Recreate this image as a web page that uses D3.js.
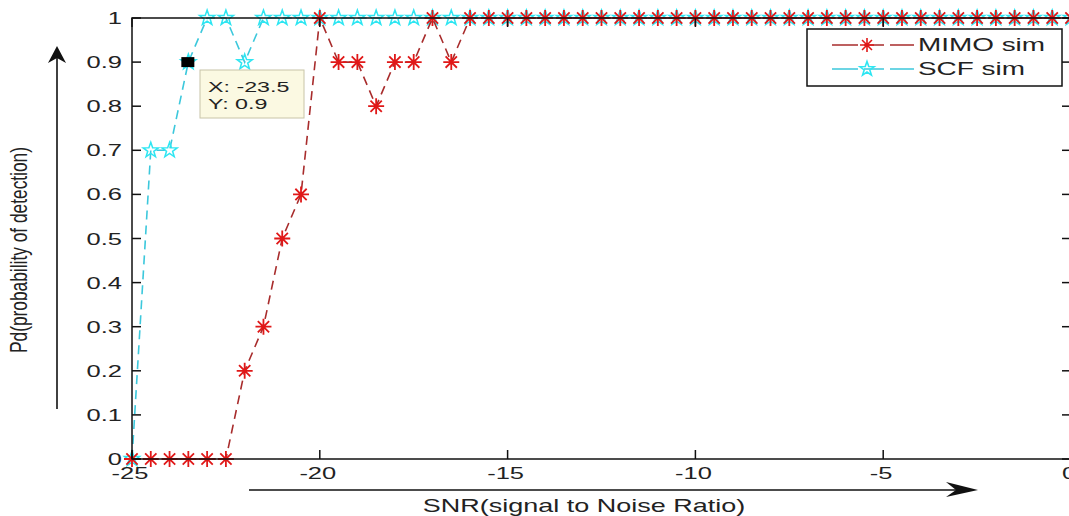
<!DOCTYPE html>
<html><head><meta charset="utf-8">
<script src="https://cdn.jsdelivr.net/npm/d3@7"></script>
<style>body{margin:0;background:#fff}svg{display:block}</style>
</head><body>
<script>
const snr = [-25,-24.5,-24,-23.5,-23,-22.5,-22,-21.5,-21,-20.5,-20,-19.5,-19,-18.5,-18,-17.5,-17,-16.5,-16,-15.5,-15,-14.5,-14,-13.5,-13,-12.5,-12,-11.5,-11,-10.5,-10,-9.5,-9,-8.5,-8,-7.5,-7,-6.5,-6,-5.5,-5,-4.5,-4,-3.5,-3,-2.5,-2,-1.5,-1,-0.5,0];
const mimo = [0,0,0,0,0,0,0.2,0.3,0.5,0.6,1,0.9,0.9,0.8,0.9,0.9,1,0.9,1,1,1,1,1,1,1,1,1,1,1,1,1,1,1,1,1,1,1,1,1,1,1,1,1,1,1,1,1,1,1,1,1];
const scf = [0,0.7,0.7,0.9,1,1,0.9,1,1,1,1,1,1,1,1,1,1,1,1,1,1,1,1,1,1,1,1,1,1,1,1,1,1,1,1,1,1,1,1,1,1,1,1,1,1,1,1,1,1,1,1];
const xTicks = [-25,-20,-15,-10,-5,0];
const yTicks = [0,0.1,0.2,0.3,0.4,0.5,0.6,0.7,0.8,0.9,1];
const seriesNames = ["MIMO sim","SCF sim"];
const tip = {x:-23.5, y:0.9};

const W=1069,H=516;
const svg=d3.select("body").append("svg").attr("width",W).attr("height",H);
const x=d3.scaleLinear().domain([-25,0]).range([132,1071]);
const y=d3.scaleLinear().domain([0,1]).range([459,18]);
const font="'Liberation Sans', Arial, sans-serif";
const redLine="#a82c2c", redMk="#e01818", cyLine="#3cc8dc", cyMk="#2ee6f2";
const SX=1.5; // horizontal stretch of the original screenshot text

function txt(parent, px, py, s, size, anchor, sx){
  return parent.append("text")
    .attr("transform",`translate(${px},${py}) scale(${sx||SX},1)`)
    .attr("text-anchor",anchor||"start")
    .attr("font-family",font).attr("font-size",size).attr("fill","#222").text(s);
}

const data1=snr.map((s,i)=>({x:s,y:mimo[i]}));
const data2=snr.map((s,i)=>({x:s,y:scf[i]}));
const line=d3.line().x(d=>x(d.x)).y(d=>y(d.y));

function starPath(r){
  let p="";
  for(let i=0;i<10;i++){
    const rr = i%2===0 ? r : r*0.4;
    const a = -Math.PI/2 + i*Math.PI/5;
    p += (i===0?"M":"L") + (rr*Math.cos(a)).toFixed(2)+","+(rr*Math.sin(a)).toFixed(2);
  }
  return p+"Z";
}
function asteriskPath(r){
  let p="";
  for(let i=0;i<4;i++){
    const a=i*Math.PI/4;
    const dx=r*Math.cos(a), dy=r*Math.sin(a);
    p+=`M${(-dx).toFixed(2)},${(-dy).toFixed(2)}L${dx.toFixed(2)},${dy.toFixed(2)}`;
  }
  return p;
}

const g=svg.append("g");
g.append("path").datum(data2).attr("d",line).attr("fill","none")
 .attr("stroke",cyLine).attr("stroke-width",1.6).attr("stroke-dasharray","9,6");
g.selectAll(".s2").data(data2).enter().append("path")
 .attr("transform",d=>`translate(${x(d.x)},${y(d.y)})`).attr("d",starPath(8))
 .attr("fill","none").attr("stroke",cyMk).attr("stroke-width",1.5);
g.append("path").datum(data1).attr("d",line).attr("fill","none")
 .attr("stroke",redLine).attr("stroke-width",1.6).attr("stroke-dasharray","9,6");
g.selectAll(".s1").data(data1).enter().append("path")
 .attr("transform",d=>`translate(${x(d.x)},${y(d.y)})`).attr("d",asteriskPath(8))
 .attr("fill","none").attr("stroke",redMk).attr("stroke-width",1.8);

const ax=svg.append("g").attr("stroke","#111").attr("stroke-width",1.5).attr("fill","none");
ax.append("rect").attr("x",x(-25)).attr("y",y(1)).attr("width",x(0)-x(-25)).attr("height",y(0)-y(1));
xTicks.forEach(t=>{
  ax.append("line").attr("x1",x(t)).attr("x2",x(t)).attr("y1",y(0)).attr("y2",y(0)-9);
  ax.append("line").attr("x1",x(t)).attr("x2",x(t)).attr("y1",y(1)).attr("y2",y(1)+9);
});
yTicks.forEach(t=>{
  ax.append("line").attr("x1",x(-25)).attr("x2",x(-25)+9).attr("y1",y(t)).attr("y2",y(t));
  ax.append("line").attr("x1",x(0)).attr("x2",x(0)-9).attr("y1",y(t)).attr("y2",y(t));
});
xTicks.forEach(t=>txt(svg, x(t)-2, 479, t, 17, "middle"));
yTicks.forEach(t=>txt(svg, 122, y(t)+6, t, 17, "end"));

// datatip
svg.append("rect").attr("x",x(tip.x)-7).attr("y",y(tip.y)-5).attr("width",13).attr("height",10).attr("fill","#000");
svg.append("rect").attr("x",200).attr("y",70).attr("width",104).attr("height",48)
 .attr("fill","#fbf9e2").attr("stroke","#c8c4a8").attr("stroke-width",1);
txt(svg, 208, 92, "X: "+tip.x, 15, "start", 1.55);
txt(svg, 208, 109, "Y: "+tip.y, 15, "start", 1.55);

// legend
const lg=svg.append("g");
lg.append("rect").attr("x",807).attr("y",29).attr("width",255).attr("height",57)
 .attr("fill","#fff").attr("stroke","#111").attr("stroke-width",1.5);
const legY=[45,69];
[[redLine,redMk,asteriskPath(7)],[cyLine,cyMk,starPath(7.5)]].forEach((c,i)=>{
  lg.append("line").attr("x1",832).attr("x2",914).attr("y1",legY[i]).attr("y2",legY[i])
   .attr("stroke",c[0]).attr("stroke-width",1.3).attr("stroke-dasharray","26,6,20,6,24");
  lg.append("path").attr("transform",`translate(867,${legY[i]})`).attr("d",c[2])
   .attr("fill","none").attr("stroke",c[1]).attr("stroke-width",1.6);
  txt(lg, 918, legY[i]+6, seriesNames[i], 18, "start", 1.55);
});

// annotation arrows
svg.append("line").attr("x1",57).attr("x2",57).attr("y1",409).attr("y2",56).attr("stroke","#111").attr("stroke-width",1.6);
svg.append("path").attr("d","M57,46 L48,63 L57,58 L66,63 Z").attr("fill","#111");
svg.append("line").attr("x1",249).attr("x2",965).attr("y1",490).attr("y2",490).attr("stroke","#111").attr("stroke-width",1.6);
svg.append("path").attr("d","M978,490 L946,482 L956,490 L946,497 Z").attr("fill","#111");

svg.append("text").attr("transform","translate(27,250) scale(1.45,1) rotate(-90)").attr("text-anchor","middle")
 .attr("font-family",font).attr("font-size",17).attr("fill","#222")
 .attr("textLength",206).attr("lengthAdjust","spacingAndGlyphs").text("Pd(probability of detection)");
txt(svg, 584, 512, "SNR(signal to Noise Ratio)", 18, "middle");
</script>
</body></html>
